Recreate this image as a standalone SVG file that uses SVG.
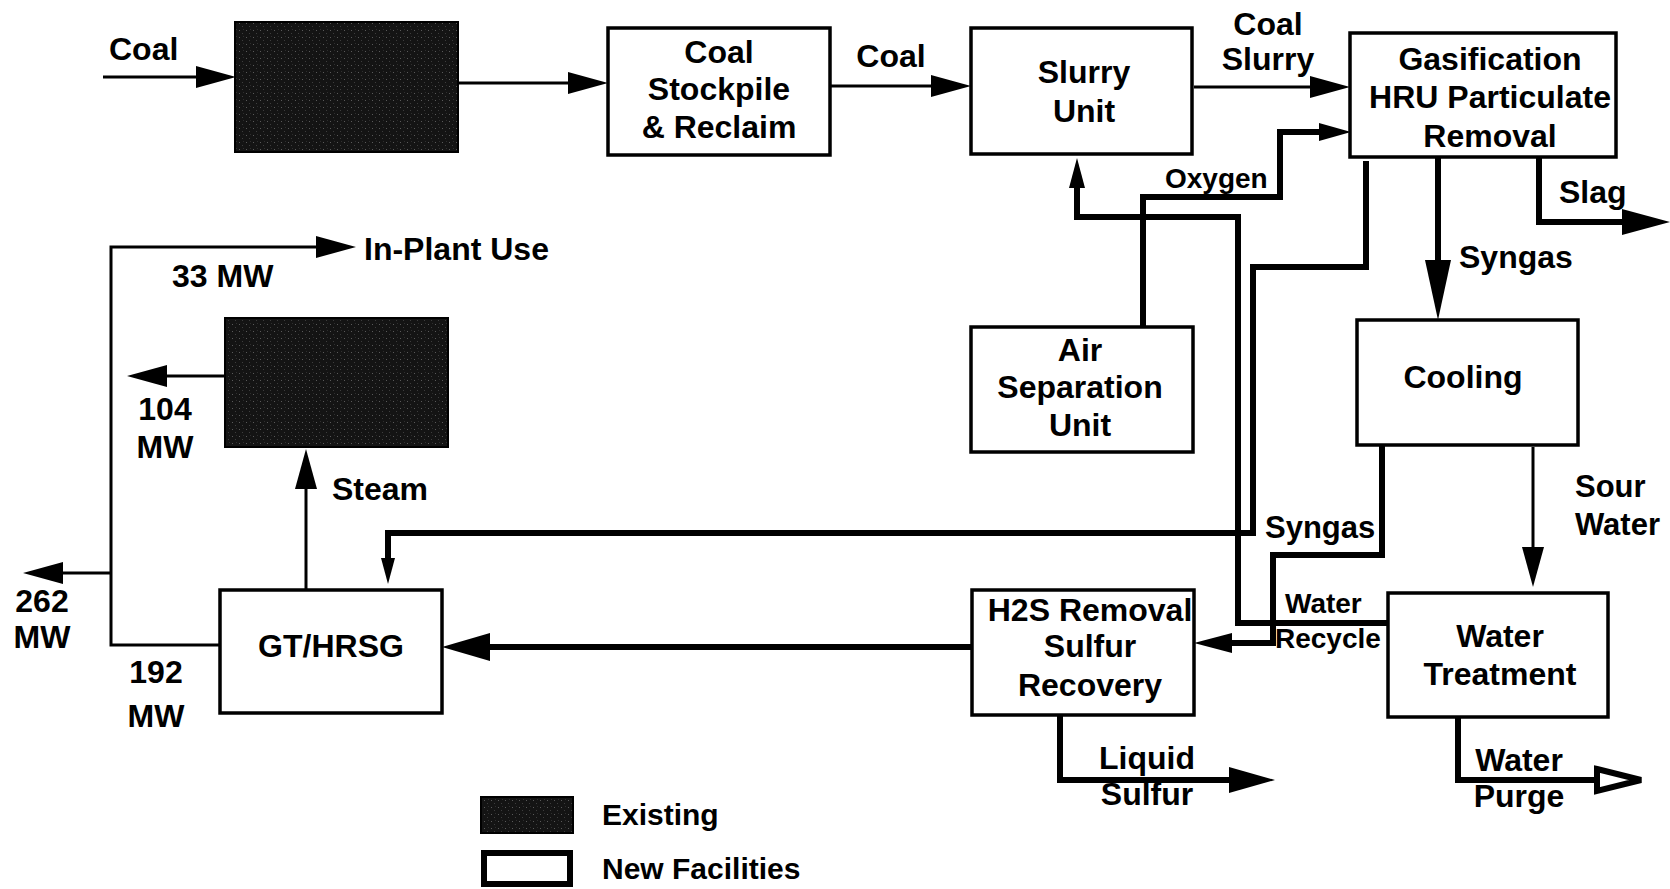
<svg xmlns="http://www.w3.org/2000/svg" width="1670" height="889" viewBox="0 0 1670 889">
<style>
  .box { fill: #ffffff; stroke: #000; stroke-width: 3.5; }
  .ex { fill: url(#speck); stroke: #000; stroke-width: 2; }
  .t { font-family: "Liberation Sans", Arial, sans-serif; font-weight: bold; font-size: 32px; fill: #000; }
  .c { text-anchor: middle; }
  .s28 { font-size: 28px; }
  .s30 { font-size: 30px; }
  .s31 { font-size: 31px; }
  .thin { fill: none; stroke: #000; stroke-width: 3; stroke-linejoin: miter; }
  .thick { fill: none; stroke: #000; stroke-width: 6; stroke-linejoin: miter; }
</style>
<defs>
  <pattern id="speck" patternUnits="userSpaceOnUse" width="7" height="7">
    <rect width="7" height="7" fill="#141414"/>
    <rect x="1" y="2" width="1" height="1" fill="#5a5a5a"/>
    <rect x="4" y="5" width="1" height="1" fill="#3e3e3e"/>
    <rect x="5" y="1" width="1" height="1" fill="#2e2e2e"/>
  </pattern>
  <marker id="mThin" markerUnits="userSpaceOnUse" viewBox="0 -11 40 22" refX="0" refY="0" markerWidth="40" markerHeight="22" orient="auto"><path d="M0,-11 L40,0 L0,11 Z" fill="#000"/></marker>
  <marker id="mOxy" markerUnits="userSpaceOnUse" viewBox="0 -9 32 18" refX="0" refY="0" markerWidth="32" markerHeight="18" orient="auto"><path d="M0,-9 L32,0 L0,9 Z" fill="#000"/></marker>
  <marker id="mSlag" markerUnits="userSpaceOnUse" viewBox="0 -13 48 26" refX="0" refY="0" markerWidth="48" markerHeight="26" orient="auto"><path d="M0,-13 L48,0 L0,13 Z" fill="#000"/></marker>
  <marker id="mSyn" markerUnits="userSpaceOnUse" viewBox="0 -13 60 26" refX="0" refY="0" markerWidth="60" markerHeight="26" orient="auto"><path d="M0,-13 L60,0 L0,13 Z" fill="#000"/></marker>
  <marker id="mNar" markerUnits="userSpaceOnUse" viewBox="0 -7 26 14" refX="0" refY="0" markerWidth="26" markerHeight="14" orient="auto"><path d="M0,-7 L26,0 L0,7 Z" fill="#000"/></marker>
  <marker id="mRec" markerUnits="userSpaceOnUse" viewBox="0 -8 30 16" refX="0" refY="0" markerWidth="30" markerHeight="16" orient="auto"><path d="M0,-8 L30,0 L0,8 Z" fill="#000"/></marker>
  <marker id="mH2S" markerUnits="userSpaceOnUse" viewBox="0 -10 38 20" refX="0" refY="0" markerWidth="38" markerHeight="20" orient="auto"><path d="M0,-10 L38,0 L0,10 Z" fill="#000"/></marker>
  <marker id="mBig" markerUnits="userSpaceOnUse" viewBox="0 -14 48 28" refX="0" refY="0" markerWidth="48" markerHeight="28" orient="auto"><path d="M0,-14 L48,0 L0,14 Z" fill="#000"/></marker>
  <marker id="mLiq" markerUnits="userSpaceOnUse" viewBox="0 -13 46 26" refX="0" refY="0" markerWidth="46" markerHeight="26" orient="auto"><path d="M0,-13 L46,0 L0,13 Z" fill="#000"/></marker>
  <marker id="mOpen" markerUnits="userSpaceOnUse" viewBox="-4 -16 54 32" refX="0" refY="0" markerWidth="54" markerHeight="32" orient="auto"><path d="M0,-11 L44,0 L0,11 Z" fill="#fff" stroke="#000" stroke-width="6" stroke-linejoin="miter"/></marker>
</defs>
<rect width="1670" height="889" fill="#ffffff"/>

<g id="connectors">
  <path class="thin" d="M103,77 H196" marker-end="url(#mThin)"/>
  <path class="thin" d="M458,83 H568" marker-end="url(#mThin)"/>
  <path class="thin" d="M830,86 H931" marker-end="url(#mThin)"/>
  <path class="thin" d="M1194,87 H1310" marker-end="url(#mThin)"/>
  <path class="thin" d="M1533,447 V547" marker-end="url(#mThin)"/>
  <path class="thin" d="M306,590 V489" marker-end="url(#mThin)"/>
  <path class="thin" d="M225,376 H167" marker-end="url(#mThin)"/>
  <path class="thin" d="M111,573 H63" marker-end="url(#mThin)"/>
  <path class="thin" d="M220,645 H111 V247 H316" marker-end="url(#mThin)"/>
  <path class="thick" d="M1143,327 V197 H1280 V132 H1319" marker-end="url(#mOxy)"/>
  <path class="thick" d="M1539,157 V222 H1622" marker-end="url(#mSlag)"/>
  <path class="thick" d="M1438,157 V260" marker-end="url(#mSyn)"/>
  <path class="thick" d="M1366,161 V267 H1253 V533 H388 V558" marker-end="url(#mNar)"/>
  <path class="thick" d="M1388,623 H1238 V217 H1077 V188" marker-end="url(#mRec)"/>
  <path class="thick" d="M1382,445 V555 H1273 V643 H1232" marker-end="url(#mH2S)"/>
  <path class="thick" d="M972,647 H490" marker-end="url(#mBig)"/>
  <path class="thick" d="M1060,715 V780 H1229" marker-end="url(#mLiq)"/>
  <path class="thick" d="M1458,717 V780 H1597" marker-end="url(#mOpen)"/>
</g>

<g id="existing1"><rect class="ex" x="235" y="22" width="223" height="130"/></g>
<g id="stockpile">
  <rect class="box" x="608" y="28" width="222" height="127"/>
  <text class="t c" x="719" y="63">Coal</text>
  <text class="t c" x="719" y="100">Stockpile</text>
  <text class="t c" x="719" y="138">&amp; Reclaim</text>
</g>
<g id="slurry">
  <rect class="box" x="971" y="28" width="221" height="126"/>
  <text class="t c" x="1084" y="83">Slurry</text>
  <text class="t c" x="1084" y="122">Unit</text>
</g>
<g id="gasification">
  <rect class="box" x="1350" y="33" width="266" height="124"/>
  <text class="t c" x="1490" y="70">Gasification</text>
  <text class="t c" x="1490" y="108">HRU Particulate</text>
  <text class="t c" x="1490" y="147">Removal</text>
</g>
<g id="airsep">
  <rect class="box" x="971" y="327" width="222" height="125"/>
  <text class="t c" x="1080" y="361">Air</text>
  <text class="t c" x="1080" y="398">Separation</text>
  <text class="t c" x="1080" y="436">Unit</text>
</g>
<g id="cooling">
  <rect class="box" x="1357" y="320" width="221" height="125"/>
  <text class="t c" x="1463" y="388">Cooling</text>
</g>
<g id="existing2"><rect class="ex" x="225" y="318" width="223" height="129"/></g>
<g id="gthrsg">
  <rect class="box" x="220" y="590" width="222" height="123"/>
  <text class="t c" x="331" y="657">GT/HRSG</text>
</g>
<g id="h2s">
  <rect class="box" x="972" y="590" width="222" height="125"/>
  <text class="t c" x="1090" y="621">H2S Removal</text>
  <text class="t c" x="1090" y="657">Sulfur</text>
  <text class="t c" x="1090" y="696">Recovery</text>
</g>
<g id="watertreatment">
  <rect class="box" x="1388" y="593" width="220" height="124"/>
  <text class="t c" x="1500" y="647">Water</text>
  <text class="t c" x="1500" y="685">Treatment</text>
</g>

<g id="labels">
  <text class="t" x="109" y="60">Coal</text>
  <text class="t c" x="891" y="67">Coal</text>
  <text class="t c" x="1268" y="35">Coal</text>
  <text class="t c" x="1268" y="70">Slurry</text>
  <text class="t s28" x="1165" y="188">Oxygen</text>
  <text class="t" x="1559" y="203">Slag</text>
  <text class="t" x="1459" y="268">Syngas</text>
  <text class="t s31" x="1575" y="497">Sour</text>
  <text class="t s31" x="1575" y="535">Water</text>
  <text class="t s31" x="1265" y="538">Syngas</text>
  <text class="t s28" x="1285" y="613">Water</text>
  <text class="t s28" x="1275" y="648">Recycle</text>
  <text class="t c" x="1147" y="769">Liquid</text>
  <text class="t c" x="1147" y="805">Sulfur</text>
  <text class="t c" x="1519" y="771">Water</text>
  <text class="t c" x="1519" y="807">Purge</text>
  <text class="t" x="364" y="260">In-Plant Use</text>
  <text class="t" x="172" y="287">33 MW</text>
  <text class="t c" x="165" y="420">104</text>
  <text class="t c" x="165" y="458">MW</text>
  <text class="t" x="332" y="500">Steam</text>
  <text class="t c" x="42" y="612">262</text>
  <text class="t c" x="42" y="648">MW</text>
  <text class="t c" x="156" y="683">192</text>
  <text class="t c" x="156" y="727">MW</text>
</g>

<g id="legend">
  <rect class="ex" x="481" y="797" width="92" height="36"/>
  <rect x="484" y="853" width="86" height="31" fill="#fff" stroke="#000" stroke-width="6"/>
  <text class="t s30" x="602" y="825">Existing</text>
  <text class="t s30" x="602" y="879">New Facilities</text>
</g>
</svg>
